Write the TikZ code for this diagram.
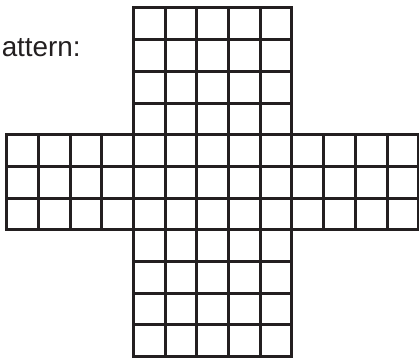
\documentclass[tikz,border=0pt]{standalone}
\usepackage{xcolor}
\usepackage{fontspec}
\setmainfont{Liberation Sans}
\usepackage{tikz}
\definecolor{myink}{RGB}{35,31,32}
\tikzset{
  cellgrid/.style={draw=myink, line width=2.15pt, line cap=rect, step=1},
  caption/.style={font=\fontsize{20}{24}\selectfont, color=myink, inner sep=0pt}
}
\begin{document}
\begin{tikzpicture}[x=0.8cm, y=0.8cm]
  \useasboundingbox (-0.211,-0.167) rectangle (13.006,11.25);

  % Label
  \node[caption, anchor=base east] (lbl) at (2.344,9.46) {attern:};

  % Vertical bar
  \draw[cellgrid] (4,0) grid (9,11);

  % Horizontal bar
  \draw[cellgrid] (0,4) grid (13,7);
\end{tikzpicture}
\end{document}
